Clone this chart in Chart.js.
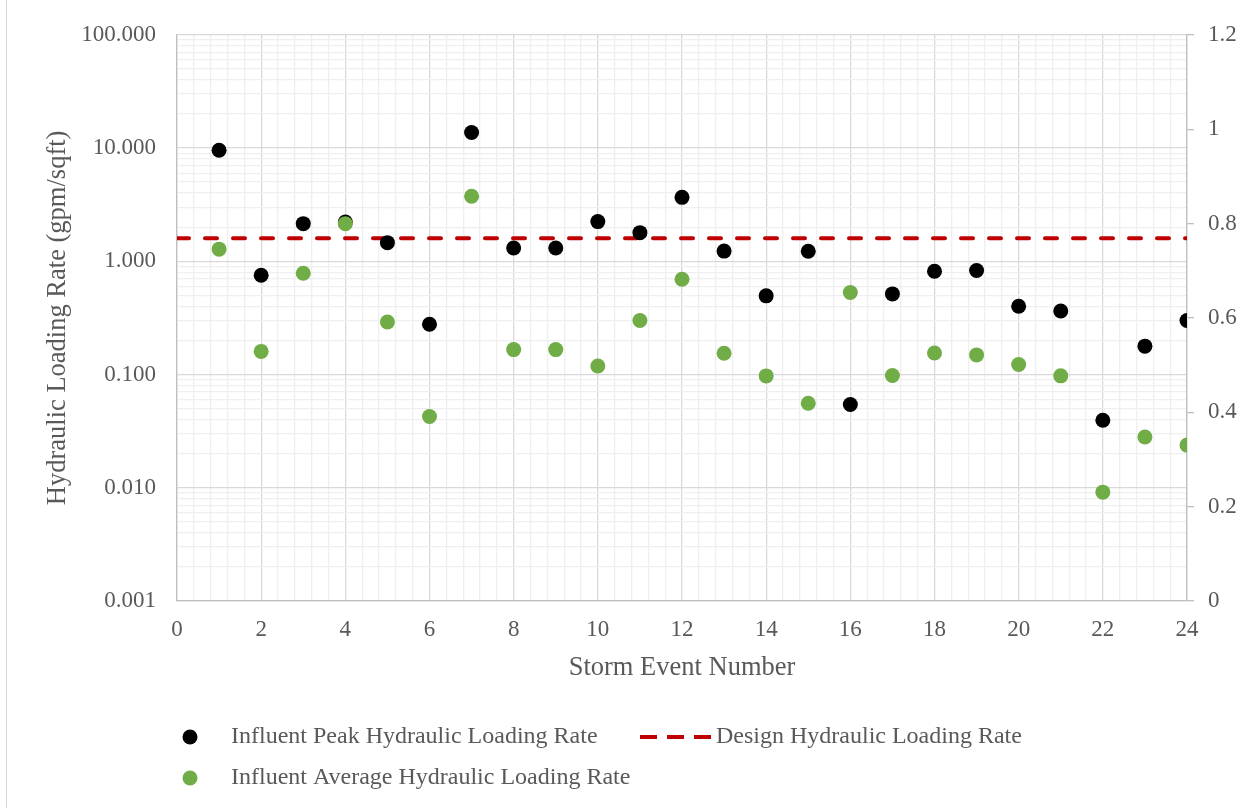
<!DOCTYPE html>
<html>
<head>
<meta charset="utf-8">
<title>Hydraulic Loading Rate by Storm Event</title>
<script src="https://cdn.jsdelivr.net/npm/chart.js@4/dist/chart.umd.min.js"></script>
<style>
  html, body { margin: 0; padding: 0; background: #ffffff; }
  #wrap { position: relative; width: 1252px; height: 808px; }
  canvas { display: block; }
</style>
</head>
<body>
<div id="wrap"><canvas id="hlr" width="1252" height="808"></canvas></div>
<script>
// Storm events and measured loading rates (gpm/sqft)
const stormEvents = [1, 2, 3, 4, 5, 6, 7, 8, 9, 10, 11, 12, 13, 14, 15, 16, 17, 18, 19, 20, 21, 22, 23, 24];
const peakRate = [9.55, 0.752, 2.15, 2.22, 1.46, 0.278, 13.7, 1.31, 1.31, 2.24, 1.79, 3.67,
                  1.23, 0.495, 1.225, 0.0543, 0.515, 0.816, 0.828, 0.401, 0.364, 0.0395, 0.178, 0.300];
const averageRate = [1.28, 0.160, 0.784, 2.15, 0.291, 0.0426, 3.75, 0.166, 0.166, 0.119, 0.300, 0.694,
                     0.154, 0.0972, 0.0558, 0.530, 0.098, 0.155, 0.149, 0.1226, 0.0973, 0.00915, 0.0281, 0.0238];
// Design criterion, drawn across the whole event range
const designEvents = [0, 24];
const designRate = [1.6, 1.6];

// Axis limits and labelled ticks
const eventAxisMin = 0, eventAxisMax = 24, eventGridStep = 0.4, eventLabelStep = 2;
const rateDecades = [0.001, 0.01, 0.1, 1, 10, 100];
const rightAxisMin = 0, rightAxisMax = 1.2, rightAxisStep = 0.2;

const SERIF = '"Liberation Serif", "Times New Roman", serif';
const TEXT = '#595959';
const GRID_MAJOR = '#d9d9d9';
const GRID_MINOR = '#efefef';
const AXIS_LINE = '#bfbfbf';

function isDecade(v) {
  const l = Math.log10(v);
  return Math.abs(l - Math.round(l)) < 1e-9;
}
function isLabelledEvent(v) {
  const r = Math.round(v * 10) / 10;
  return Math.abs(r / eventLabelStep - Math.round(r / eventLabelStep)) < 1e-9;
}

function toPoints(xs, ys) { return xs.map((x, i) => ({ x: x, y: ys[i] })); }

// Legend drawn below the plot in two rows, Excel-style
const legendRows = {
  id: 'legendRows',
  afterDraw(chart) {
    const ctx = chart.ctx;
    const ds = chart.data.datasets;
    ctx.save();
    ctx.font = '24px ' + SERIF;
    ctx.textBaseline = 'middle';
    ctx.textAlign = 'left';

    const marker = (d, cx, cy) => {
      ctx.beginPath();
      ctx.arc(cx, cy, 7.5, 0, Math.PI * 2);
      ctx.fillStyle = d.backgroundColor;
      ctx.fill();
    };
    // row 1: peak marker + label, dashed design line + label
    marker(ds[0], 190, 737);
    ctx.fillStyle = TEXT;
    ctx.fillText(ds[0].label, 231, 737);

    ctx.beginPath();
    ctx.strokeStyle = ds[1].borderColor;
    ctx.lineWidth = 4;
    ctx.setLineDash([17, 10]);
    ctx.moveTo(640, 737);
    ctx.lineTo(711, 737);
    ctx.stroke();
    ctx.setLineDash([]);
    ctx.fillStyle = TEXT;
    ctx.fillText(ds[1].label, 716, 737);

    // row 2: average marker + label
    marker(ds[2], 190, 778);
    ctx.fillStyle = TEXT;
    ctx.fillText(ds[2].label, 231, 778);

    // outer frame edge
    ctx.beginPath();
    ctx.strokeStyle = '#d9d9d9';
    ctx.lineWidth = 1;
    ctx.moveTo(6.5, 0);
    ctx.lineTo(6.5, 808);
    ctx.stroke();
    ctx.restore();
  }
};

new Chart(document.getElementById('hlr'), {
  type: 'scatter',
  data: {
    datasets: [
      {
        label: 'Influent Peak Hydraulic Loading Rate',
        data: toPoints(stormEvents, peakRate),
        backgroundColor: '#000000',
        borderColor: '#000000',
        pointRadius: 7.5,
        pointBorderWidth: 0,
        pointHoverRadius: 7.5,
        showLine: false,
        yAxisID: 'y',
        order: 1
      },
      {
        label: 'Design Hydraulic Loading Rate',
        data: toPoints(designEvents, designRate),
        borderColor: '#c00000',
        backgroundColor: '#c00000',
        borderWidth: 4,
        borderDash: [12, 16],
        borderCapStyle: 'round',
        pointRadius: 0,
        pointHoverRadius: 0,
        showLine: true,
        yAxisID: 'y',
        order: 2
      },
      {
        label: 'Influent Average Hydraulic Loading Rate',
        data: toPoints(stormEvents, averageRate),
        backgroundColor: '#70ad47',
        borderColor: '#70ad47',
        pointRadius: 7.5,
        pointBorderWidth: 0,
        pointHoverRadius: 7.5,
        showLine: false,
        yAxisID: 'y',
        order: 0
      }
    ]
  },
  options: {
    responsive: false,
    animation: false,
    devicePixelRatio: 1,
    layout: { padding: { left: 0, right: 0, top: 34, bottom: 0 } },
    plugins: {
      legend: { display: false },
      tooltip: { enabled: false },
      title: { display: false }
    },
    scales: {
      x: {
        type: 'linear',
        position: 'bottom',
        min: eventAxisMin,
        max: eventAxisMax,
        afterBuildTicks(scale) {
          const ticks = [];
          const n = Math.round((eventAxisMax - eventAxisMin) / eventGridStep);
          for (let i = 0; i <= n; i++) {
            ticks.push({ value: Math.round((eventAxisMin + i * eventGridStep) * 10) / 10 });
          }
          scale.ticks = ticks;
        },
        afterFit(scale) { scale.height = 207; },
        ticks: {
          autoSkip: false,
          maxRotation: 0,
          padding: 15,
          color: TEXT,
          font: { family: SERIF, size: 23 },
          callback: (v) => isLabelledEvent(v) ? String(Math.round(v)) : ''
        },
        grid: {
          drawTicks: false,
          lineWidth: 1.3,
          color: (c) => (c.tick && isLabelledEvent(c.tick.value)) ? GRID_MAJOR : GRID_MINOR
        },
        border: { display: true, color: AXIS_LINE, width: 1.3 },
        title: {
          display: true,
          text: 'Storm Event Number',
          color: TEXT,
          font: { family: SERIF, size: 26.5 },
          padding: { top: 0, bottom: 124 }
        }
      },
      y: {
        type: 'logarithmic',
        position: 'left',
        min: rateDecades[0],
        max: rateDecades[rateDecades.length - 1],
        afterBuildTicks(scale) {
          const ticks = [];
          for (let d = 0; d < rateDecades.length - 1; d++) {
            for (let m = 1; m <= 9; m++) {
              ticks.push({ value: parseFloat((rateDecades[d] * m).toPrecision(6)) });
            }
          }
          ticks.push({ value: rateDecades[rateDecades.length - 1] });
          scale.ticks = ticks;
        },
        afterFit(scale) { scale.width = 177; },
        ticks: {
          autoSkip: false,
          padding: 21,
          color: TEXT,
          font: { family: SERIF, size: 23 },
          callback: (v) => isDecade(v) ? Number(v).toFixed(3) : ''
        },
        grid: {
          drawTicks: false,
          lineWidth: 1.3,
          color: (c) => (c.tick && isDecade(c.tick.value)) ? GRID_MAJOR : GRID_MINOR
        },
        border: { display: true, color: AXIS_LINE, width: 1.3 },
        title: {
          display: true,
          text: 'Hydraulic Loading Rate (gpm/sqft)',
          color: TEXT,
          font: { family: SERIF, size: 26.5 },
          padding: { top: 42, bottom: 0 }
        }
      },
      y2: {
        type: 'linear',
        position: 'right',
        min: rightAxisMin,
        max: rightAxisMax,
        afterFit(scale) { scale.width = 65; },
        ticks: {
          stepSize: rightAxisStep,
          padding: 14,
          color: TEXT,
          font: { family: SERIF, size: 23 },
          callback: (v) => String(parseFloat(Number(v).toFixed(1)))
        },
        grid: {
          drawOnChartArea: false,
          drawTicks: true,
          tickLength: 7,
          lineWidth: 1.3,
          color: AXIS_LINE
        },
        border: { display: true, color: AXIS_LINE, width: 1.3 }
      }
    }
  },
  plugins: [legendRows]
});
</script>
</body>
</html>
